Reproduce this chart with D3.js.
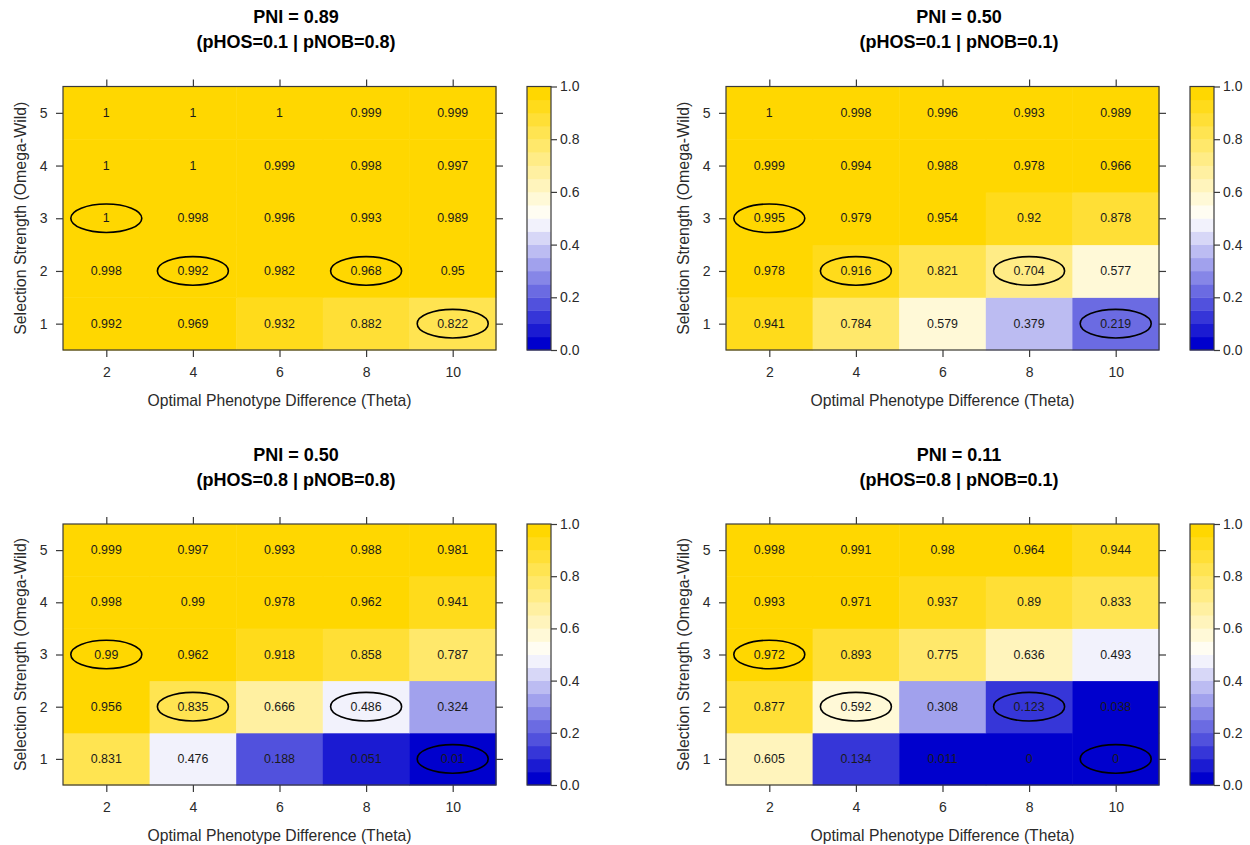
<!DOCTYPE html>
<html><head><meta charset="utf-8">
<script src="https://cdn.jsdelivr.net/npm/d3@7"></script>
<style>
html,body{margin:0;padding:0;background:#fff;}
text{font-family:"Liberation Sans",Arial,sans-serif;}
</style></head>
<body><svg id="chart" width="1250" height="845"></svg>
<script>
// ---------- data ----------
const thetaLevels = [2, 4, 6, 8, 10];
const omegaLevels = [1, 2, 3, 4, 5];
const panelTitles = ["PNI = 0.89", "PNI = 0.50", "PNI = 0.50", "PNI = 0.11"];
const panelSubtitles = ["(pHOS=0.1 | pNOB=0.8)", "(pHOS=0.1 | pNOB=0.1)", "(pHOS=0.8 | pNOB=0.8)", "(pHOS=0.8 | pNOB=0.1)"];
// rows: omega = 1..5, columns: theta = 2,4,6,8,10
const valuesPNI089 = [
  [0.992, 0.969, 0.932, 0.882, 0.822],
  [0.998, 0.992, 0.982, 0.968, 0.95],
  [1, 0.998, 0.996, 0.993, 0.989],
  [1, 1, 0.999, 0.998, 0.997],
  [1, 1, 1, 0.999, 0.999]
];
const valuesPNI050a = [
  [0.941, 0.784, 0.579, 0.379, 0.219],
  [0.978, 0.916, 0.821, 0.704, 0.577],
  [0.995, 0.979, 0.954, 0.92, 0.878],
  [0.999, 0.994, 0.988, 0.978, 0.966],
  [1, 0.998, 0.996, 0.993, 0.989]
];
const valuesPNI050b = [
  [0.831, 0.476, 0.188, 0.051, 0.01],
  [0.956, 0.835, 0.666, 0.486, 0.324],
  [0.99, 0.962, 0.918, 0.858, 0.787],
  [0.998, 0.99, 0.978, 0.962, 0.941],
  [0.999, 0.997, 0.993, 0.988, 0.981]
];
const valuesPNI011 = [
  [0.605, 0.134, 0.011, 0, 0],
  [0.877, 0.592, 0.308, 0.123, 0.038],
  [0.972, 0.893, 0.775, 0.636, 0.493],
  [0.993, 0.971, 0.937, 0.89, 0.833],
  [0.998, 0.991, 0.98, 0.964, 0.944]
];
const circledCells = [[2, 3], [4, 2], [8, 2], [10, 1]]; // [theta, omega]
const colorTicks = [0, 0.2, 0.4, 0.6, 0.8, 1.0];
const xAxisTitle = "Optimal Phenotype Difference (Theta)";
const yAxisTitle = "Selection Strength (Omega-Wild)";

const panels = [
  {title: panelTitles[0], sub: panelSubtitles[0], values: valuesPNI089, col: 0, row: 0},
  {title: panelTitles[1], sub: panelSubtitles[1], values: valuesPNI050a, col: 1, row: 0},
  {title: panelTitles[2], sub: panelSubtitles[2], values: valuesPNI050b, col: 0, row: 1},
  {title: panelTitles[3], sub: panelSubtitles[3], values: valuesPNI011, col: 1, row: 1}
];

// ---------- colours: 20 levels, blue3 -> white -> gold ----------
const nLevels = 20;
const thresholds = d3.range(1, nLevels).map(i => i / nLevels);
const ramp = d3.piecewise(d3.interpolateRgb, ["#0000CD", "#FFFFFF", "#FFD700"]);
const levelColors = d3.range(nLevels).map(i => ramp(i / (nLevels - 1)));
const color = d3.scaleThreshold().domain(thresholds).range(levelColors);

// ---------- layout ----------
const colX = [0, 663];
const rowTop = [86.5, 524];
const rowBottom = [350, 785];
const plotL = 63, plotR = 496;
const barL = 527, barR = 551;
const borderCol = "#3a3a3a";
const textCol = "#2a2a2a";

const svg = d3.select("#chart");

panels.forEach(p => {
  const g = svg.append("g").attr("transform", `translate(${colX[p.col]},0)`);
  const top = rowTop[p.row], bottom = rowBottom[p.row];
  const x = d3.scaleLinear().domain([1, 11]).range([plotL, plotR]);
  const y = d3.scaleLinear().domain([0.5, 5.5]).range([bottom, top]);

  // cells
  const cells = [];
  p.values.forEach((row, i) => row.forEach((v, j) => cells.push({theta: thetaLevels[j], omega: omegaLevels[i], v})));
  g.selectAll("rect.cell").data(cells).join("rect")
    .attr("class", "cell")
    .attr("x", d => x(d.theta - 1))
    .attr("y", d => y(d.omega + 0.5))
    .attr("width", d => x(d.theta + 1) - x(d.theta - 1) + 0.5)
    .attr("height", d => y(d.omega - 0.5) - y(d.omega + 0.5) + 0.5)
    .attr("fill", d => color(d.v));

  g.selectAll("text.val").data(cells).join("text")
    .attr("class", "val")
    .attr("x", d => x(d.theta))
    .attr("y", d => y(d.omega))
    .attr("text-anchor", "middle")
    .attr("dominant-baseline", "central")
    .attr("font-size", 12.4)
    .attr("fill", "#1a1a1a")
    .text(d => String(d.v));

  // ellipses
  g.selectAll("ellipse").data(circledCells).join("ellipse")
    .attr("cx", d => x(d[0]))
    .attr("cy", d => y(d[1]))
    .attr("rx", 35.5)
    .attr("ry", 14.3)
    .attr("fill", "none")
    .attr("stroke", "#000")
    .attr("stroke-width", 1.6);

  // border
  g.append("rect").attr("x", plotL).attr("y", top).attr("width", plotR - plotL).attr("height", bottom - top)
    .attr("fill", "none").attr("stroke", borderCol).attr("stroke-width", 1.2);

  // axes
  const styleAxis = sel => {
    sel.select(".domain").remove();
    sel.selectAll("line").attr("stroke", borderCol).attr("stroke-width", 1.2);
    sel.selectAll("text").attr("font-family", '"Liberation Sans",Arial,sans-serif').attr("font-size", 14).attr("fill", textCol);
  };
  g.append("g").attr("transform", `translate(0,${bottom})`)
    .call(d3.axisBottom(x).tickValues(thetaLevels).tickSize(7).tickPadding(10.5).tickFormat(d3.format("d")))
    .call(styleAxis);
  g.append("g").attr("transform", `translate(0,${top})`)
    .call(d3.axisTop(x).tickValues(thetaLevels).tickSize(7).tickFormat(""))
    .call(styleAxis);
  g.append("g").attr("transform", `translate(${plotL},0)`)
    .call(d3.axisLeft(y).tickValues(omegaLevels).tickSize(7).tickPadding(8.5).tickFormat(d3.format("d")))
    .call(styleAxis);
  g.append("g").attr("transform", `translate(${plotR},0)`)
    .call(d3.axisRight(y).tickValues(omegaLevels).tickSize(7).tickFormat(""))
    .call(styleAxis);

  // axis titles
  g.append("text").attr("x", (plotL + plotR) / 2).attr("y", bottom + 50)
    .attr("text-anchor", "middle").attr("dominant-baseline", "central")
    .attr("font-size", 15.7).attr("fill", textCol).text(xAxisTitle);
  g.append("text").attr("transform", `translate(20,${(top + bottom) / 2}) rotate(-90)`)
    .attr("text-anchor", "middle").attr("dominant-baseline", "central")
    .attr("font-size", 15.9).attr("fill", textCol).text(yAxisTitle);

  // titles
  g.append("text").attr("x", 296).attr("y", top - 69.5)
    .attr("text-anchor", "middle").attr("dominant-baseline", "central")
    .attr("font-size", 18).attr("font-weight", "bold").attr("fill", "#000").text(p.title);
  g.append("text").attr("x", 296).attr("y", top - 44.5)
    .attr("text-anchor", "middle").attr("dominant-baseline", "central")
    .attr("font-size", 18).attr("font-weight", "bold").attr("fill", "#000").text(p.sub);

  // colour key
  const yc = d3.scaleLinear().domain([0, 1]).range([bottom, top]);
  g.selectAll("rect.key").data(d3.range(nLevels)).join("rect")
    .attr("class", "key")
    .attr("x", barL)
    .attr("y", i => yc((i + 1) / nLevels))
    .attr("width", barR - barL)
    .attr("height", i => yc(i / nLevels) - yc((i + 1) / nLevels) + 0.4)
    .attr("fill", i => levelColors[i]);
  g.append("rect").attr("x", barL).attr("y", top).attr("width", barR - barL).attr("height", bottom - top)
    .attr("fill", "none").attr("stroke", borderCol).attr("stroke-width", 1.2);
  g.append("g").attr("transform", `translate(${barR},0)`)
    .call(d3.axisRight(yc).tickValues(colorTicks).tickSize(6).tickPadding(3).tickFormat(d3.format(".1f")))
    .call(styleAxis);
});
</script>
</body></html>
